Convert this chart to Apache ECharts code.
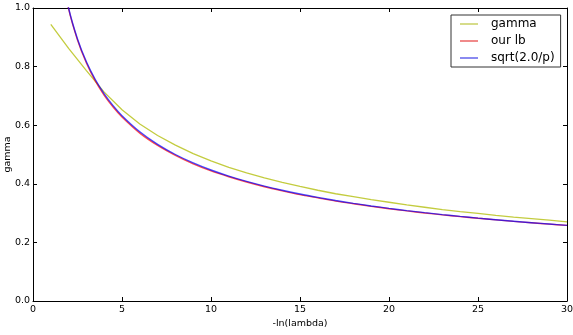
<!DOCTYPE html>
<html>
<head>
<meta charset="utf-8">
<script src="https://cdn.jsdelivr.net/npm/echarts@6/dist/echarts.min.js"></script>
<style>
html,body{margin:0;padding:0;background:#fff;}
#chart{width:573px;height:335px;}
</style>
</head>
<body>
<div id="chart"></div>
<script>
// Data
var gammaX = [1,2,3,4,5,6,7,8,9,10,11,12,13,14,15,16,17,18,19,20,21,22,23,24,25,26,27,28,29,30];
var gammaY = [0.944,0.862,0.786,0.713,0.653,0.604,0.565,0.532,0.503,0.478,0.456,0.437,0.420,0.405,0.391,0.378,0.366,0.356,0.346,0.337,0.328,0.320,0.312,0.305,0.299,0.292,0.286,0.281,0.276,0.270];

var lbX = [1,1.5,2,2.5,3,3.5,4,4.5,5,6,7,8,9,10,11,12,13,14,15,16,17,18,19,20,21,22,23,24,25,26,27,28,29,30];
var ourLbY = [1.41,1.152,0.997,0.891,0.812,0.751,0.702,0.662,0.628,0.573,0.531,0.497,0.468,0.444,0.424,0.406,0.390,0.376,0.363,0.352,0.341,0.332,0.323,0.315,0.3075,0.3005,0.294,0.288,0.2823,0.277,0.2718,0.267,0.2623,0.258];
var sqrtY = [1.4142,1.1547,1.0,0.8944,0.8165,0.7559,0.7071,0.6667,0.6325,0.5774,0.5345,0.5,0.4714,0.4472,0.4264,0.4082,0.3922,0.378,0.3651,0.3536,0.343,0.3333,0.3244,0.3162,0.3086,0.3015,0.2949,0.2887,0.2828,0.2774,0.2722,0.2673,0.2626,0.2582];

var seriesNames = ['gamma', 'our lb', 'sqrt(2.0/p)'];
var xTicks = [0,5,10,15,20,25,30];
var yTicks = [0.0,0.2,0.4,0.6,0.8,1.0];

function pairs(xs, ys){ return xs.map(function(x,i){ return [x, ys[i]]; }); }

var FONT = 'DejaVu Sans';
var chart = echarts.init(document.getElementById('chart'), null, {renderer:'canvas'});
var axisLine = {show:true, onZero:false, lineStyle:{color:'#000', width:1}};
var ticks = {show:true, inside:true, length:4, lineStyle:{color:'#000', width:1}};
chart.setOption({
  animation:false,
  backgroundColor:'#fff',
  grid:{left:33, right:6, top:8, bottom:34, containLabel:false, outerBoundsMode:'none'},
  legend:{
    data:seriesNames,
    orient:'vertical',
    left:451, top:15,
    padding:[3,6,3,9],
    itemGap:5,
    itemWidth:18, itemHeight:2,
    icon:'rect',
    borderColor:'#333', borderWidth:1, borderRadius:0,
    backgroundColor:'#fff',
    textStyle:{fontFamily:FONT, fontSize:12, color:'#000', padding:[0,0,0,8]}
  },
  xAxis:[{
    type:'value', min:0, max:30, interval:5, position:'bottom',
    name:'-ln(lambda)', nameLocation:'middle', nameGap:18, nameMoveOverlap:false,
    nameTextStyle:{fontFamily:FONT, fontSize:9.5, color:'#000'},
    axisLine:axisLine, axisTick:ticks,
    axisLabel:{fontFamily:FONT, fontSize:9.5, color:'#000', margin:4,
      formatter:function(v){ return xTicks.indexOf(v)>=0 ? String(v) : ''; }},
    splitLine:{show:false}
  },{
    type:'value', min:0, max:30, interval:5, position:'top',
    axisLine:axisLine, axisTick:ticks, axisLabel:{show:false}, splitLine:{show:false}
  }],
  yAxis:[{
    type:'value', min:0, max:1, interval:0.2, position:'left',
    name:'gamma', nameLocation:'middle', nameGap:25, nameRotate:90, nameMoveOverlap:false,
    nameTextStyle:{fontFamily:FONT, fontSize:9.5, color:'#000', verticalAlign:'middle'},
    axisLine:axisLine, axisTick:ticks,
    axisLabel:{fontFamily:FONT, fontSize:9.5, color:'#000', margin:3,
      formatter:function(v){ return v.toFixed(1); }},
    splitLine:{show:false}
  },{
    type:'value', min:0, max:1, interval:0.2, position:'right',
    axisLine:axisLine, axisTick:ticks, axisLabel:{show:false}, splitLine:{show:false}
  }],
  series:[
    {name:seriesNames[0], type:'line', data:pairs(gammaX, gammaY), showSymbol:false, clip:true,
     color:'#bcc62a', lineStyle:{color:'#bcc62a', width:1.3, opacity:0.9}, itemStyle:{color:'#d6dc8a'}},
    {name:seriesNames[1], type:'line', data:pairs(lbX, ourLbY), showSymbol:false, clip:true, smooth:0.3,
     color:'#ff0000', lineStyle:{color:'#ff0000', width:1.4, opacity:0.7}, itemStyle:{color:'#f08a8a'}},
    {name:seriesNames[2], type:'line', data:pairs(lbX, sqrtY), showSymbol:false, clip:true, smooth:0.3,
     color:'#0000ff', lineStyle:{color:'#0000ff', width:1.4, opacity:0.7}, itemStyle:{color:'#8a8af0'}}
  ]
});
</script>
</body>
</html>
